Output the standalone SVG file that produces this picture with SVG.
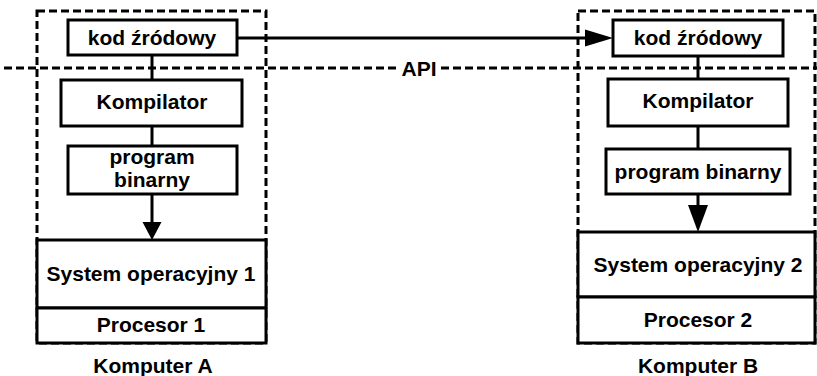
<svg xmlns="http://www.w3.org/2000/svg" width="817" height="376" viewBox="0 0 817 376">
<style>
.box{fill:#fff;stroke:#000;stroke-width:3}
.dash{fill:none;stroke:#000;stroke-width:3;stroke-dasharray:8 4}
.ln{fill:none;stroke:#000;stroke-width:3}
.ah{fill:#000;stroke:none}
text{font-family:"Liberation Sans",Arial,sans-serif;font-weight:bold;font-size:21px;text-anchor:middle;fill:#000}
</style>
<rect width="817" height="376" fill="#fff"/>
<g id="computerA-frame"><rect class="dash" x="37" y="11" width="229" height="332"/></g>
<g id="computerB-frame"><rect class="dash" x="578" y="11" width="237" height="332"/></g>
<g id="api-line">
<line class="dash" x1="4" y1="68" x2="396" y2="68"/>
<line class="dash" x1="441" y1="68" x2="817" y2="68"/>
<text x="419" y="75.5">API</text>
</g>
<g id="connectors">
<line class="ln" x1="152" y1="55" x2="152" y2="80"/>
<line class="ln" x1="152" y1="126" x2="152" y2="146"/>
<line class="ln" x1="152" y1="194" x2="152" y2="224"/>
<polygon class="ah" points="142.5,222 161.5,222 152,240"/>
<line class="ln" x1="698" y1="56" x2="698" y2="79"/>
<line class="ln" x1="698" y1="126" x2="698" y2="149"/>
<line class="ln" x1="698" y1="194" x2="698" y2="210"/>
<polygon class="ah" points="688,205 708,205 698,232"/>
<line class="ln" x1="237" y1="38" x2="590" y2="38"/>
<polygon class="ah" points="585,29.5 613,38 585,46.5"/>
</g>
<g id="srcA"><rect class="box" x="68" y="20" width="169" height="35"/><text x="152" y="45">kod źródowy</text></g>
<g id="compA"><rect class="box" x="61" y="80" width="181" height="46"/><text x="152" y="109">Kompilator</text></g>
<g id="binA"><rect class="box" x="68" y="146" width="169" height="48"/><text x="152" y="164">program</text><text x="152" y="187">binarny</text></g>
<g id="osA"><rect class="box" x="37" y="240" width="229" height="68"/><text x="151" y="281">System operacyjny 1</text></g>
<g id="cpuA"><rect class="box" x="37" y="308" width="229" height="35"/><text x="151" y="332">Procesor 1</text></g>
<text x="153" y="373">Komputer A</text>
<g id="srcB"><rect class="box" x="613" y="20" width="170" height="36"/><text x="698" y="45">kod źródowy</text></g>
<g id="compB"><rect class="box" x="608" y="79" width="180" height="47"/><text x="698" y="108">Kompilator</text></g>
<g id="binB"><rect class="box" x="606" y="149" width="184" height="45"/><text x="698" y="179">program binarny</text></g>
<g id="osB"><rect class="box" x="578" y="232" width="237" height="65"/><text x="698" y="272">System operacyjny 2</text></g>
<g id="cpuB"><rect class="box" x="578" y="297" width="237" height="46"/><text x="698" y="327">Procesor 2</text></g>
<text x="698" y="373">Komputer B</text>
</svg>
